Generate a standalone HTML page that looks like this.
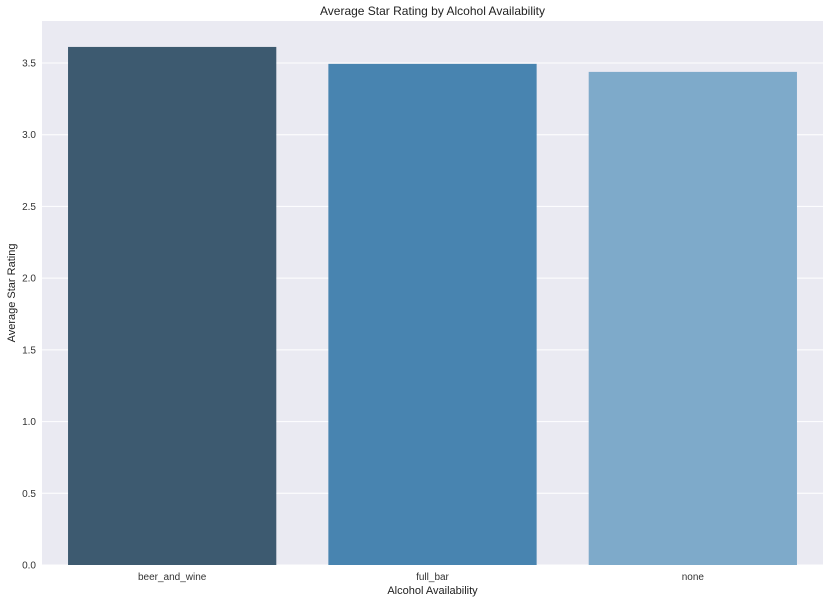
<!DOCTYPE html>
<html><head><meta charset="utf-8"><style>
body{margin:0;background:#fff;}
svg{display:block;font-family:"Liberation Sans",sans-serif;}
</style></head><body>
<svg id="chart" width="830" height="602"></svg>
<script>
const categories=["beer_and_wine","full_bar","none"];
const values=[3.612,3.494,3.438];
const colors=["#3d5a70","#4884b0","#7eaaca"];
const yTicks=[0,0.5,1,1.5,2,2.5,3,3.5];
const L=42,R=823,T=21,B=565,yMax=(565-21)/143.43;
const NS="http://www.w3.org/2000/svg";
const svg=document.getElementById('chart');
function y(v){return B-(v/yMax)*(B-T);}
const band=(R-L)/categories.length;
function x(i){return L+band*i;}
function mk(t,a,txt){const e=document.createElementNS(NS,t);for(const k in a)e.setAttribute(k,a[k]);if(txt!==undefined)e.textContent=txt;svg.appendChild(e);return e;}
let e=mk('rect',{x:L,y:T,width:R-L,height:B-T,fill:'#eaeaf2'});


yTicks.forEach(t=>{
 let g=mk('line',{x1:L,x2:R,y1:y(t),y2:y(t),stroke:'#fff','stroke-width':1});
 
 
 let l=mk('text',{x:L-6,y:y(t)+3.5,'text-anchor':'end','font-size':10,fill:'#333'},t.toFixed(1));
 
 
});
categories.forEach((c,i)=>{
 const w=band*0.8,bx=x(i)+band*0.1;
 let r=mk('rect',{x:bx,y:y(values[i]),width:w,height:B-y(values[i]),fill:colors[i]});
 
 
 let l=mk('text',{x:x(i)+band/2,y:B+15,'text-anchor':'middle','font-size':10,fill:'#333'},c);
 
 
});
e=mk('text',{x:(L+R)/2,y:594,'text-anchor':'middle','font-size':11,fill:'#222'},'Alcohol Availability');


e=mk('text',{x:15,y:(T+B)/2,'text-anchor':'middle','font-size':11,fill:'#222',transform:'rotate(-90 15 '+((T+B)/2)+')'},'Average Star Rating');


e=mk('text',{x:(L+R)/2,y:15,'text-anchor':'middle','font-size':12,fill:'#222'},'Average Star Rating by Alcohol Availability');


</script>
</body></html>
